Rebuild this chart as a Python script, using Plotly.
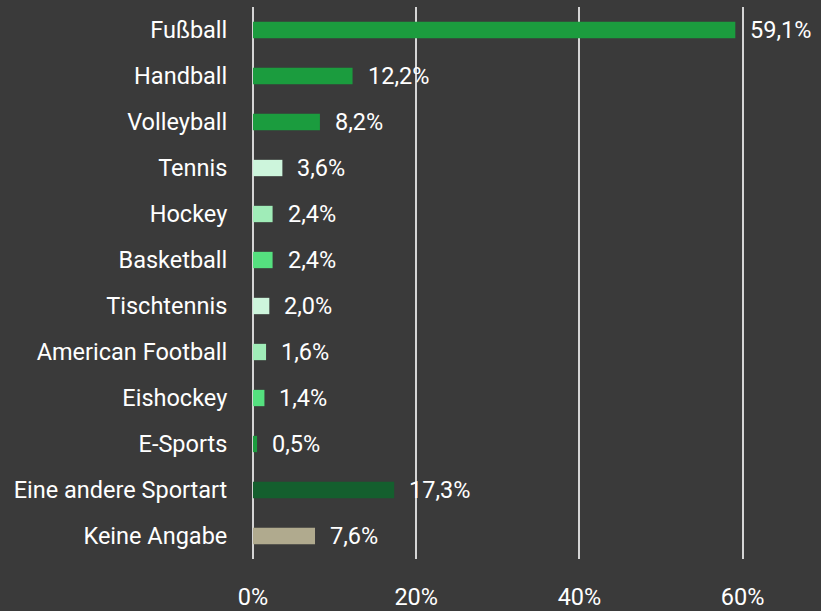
import plotly.graph_objects as go

categories = ["Fußball", "Handball", "Volleyball", "Tennis", "Hockey", "Basketball",
              "Tischtennis", "American Football", "Eishockey", "E-Sports",
              "Eine andere Sportart", "Keine Angabe"]
values = [59.1, 12.2, 8.2, 3.6, 2.4, 2.4, 2.0, 1.6, 1.4, 0.5, 17.3, 7.6]
labels = ["59,1%", "12,2%", "8,2%", "3,6%", "2,4%", "2,4%", "2,0%", "1,6%", "1,4%", "0,5%", "17,3%", "7,6%"]
colors = ["#1b9c3e", "#1b9c3e", "#1b9c3e", "#cdf5dc", "#a0ecb8", "#55e07f",
          "#cdf5dc", "#a0ecb8", "#55e07f", "#1b9c3e", "#145f2e", "#b0aa8e"]
x_ticks = [0, 20, 40, 60]
x_tick_labels = ["0%", "20%", "40%", "60%"]

BG = "#3a3a3a"
FONT = "Roboto, sans-serif"
FS = 23.5

fig = go.Figure()
fig.add_trace(go.Bar(
    x=values, y=categories, orientation="h",
    marker=dict(color=colors, line=dict(width=0)),
    width=0.355, hoverinfo="skip",
))

for c, v, t in zip(categories, values, labels):
    fig.add_annotation(x=v, y=c, text=t, showarrow=False, xanchor="left",
                       xshift=13, font=dict(color="white", size=FS, family=FONT))

fig.update_layout(
    width=821, height=611,
    paper_bgcolor=BG, plot_bgcolor=BG,
    margin=dict(l=253, r=0, t=7, b=47),
    showlegend=False,
    font=dict(family=FONT, color="white", size=FS),
    xaxis=dict(range=[0, 69.6], tickvals=x_ticks, ticktext=x_tick_labels,
               showgrid=True, gridcolor="#d4d4d4", gridwidth=2,
               zeroline=True, zerolinecolor="#d4d4d4", zerolinewidth=2,
               ticks="outside", ticklen=17, tickcolor=BG,
               tickfont=dict(size=FS, color="white", family=FONT),
               fixedrange=True),
    yaxis=dict(categoryorder="array", categoryarray=categories[::-1],
               range=[-0.5, 11.5],
               ticks="outside", ticklen=20, tickcolor=BG,
               tickfont=dict(size=FS, color="white", family=FONT),
               showgrid=False, zeroline=False, fixedrange=True),
)

fig.write_html("out.html", config={"displayModeBar": False},
               post_script="document.body.style.margin='0';document.body.style.background='#3a3a3a';")
